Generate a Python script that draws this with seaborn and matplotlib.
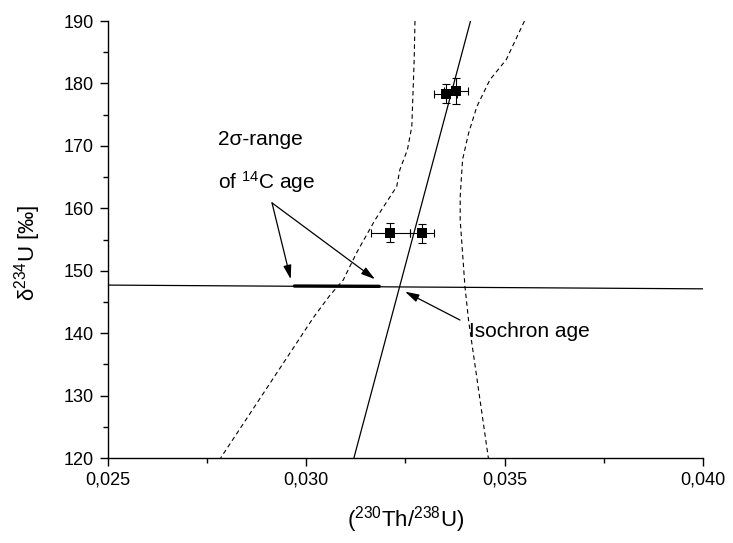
import matplotlib
matplotlib.use("Agg")
import matplotlib.pyplot as plt
import seaborn as sns
import pandas as pd
from matplotlib.ticker import MultipleLocator, FuncFormatter

# ---------------- data ----------------
pt_x = [0.03212, 0.03292, 0.03352, 0.03377]
pt_y = [156.1, 156.0, 178.35, 178.8]
pt_xerr = [0.00050, 0.00030, 0.00029, 0.00030]
pt_yerr = [1.5, 1.5, 1.55, 2.1]

iso_x = [0.03120, 0.03414]
iso_y = [120.0, 190.0]

ref_x = [0.025, 0.040]
ref_y = [147.7, 147.1]

c14_x = [0.02970, 0.03184]
c14_y = [147.55, 147.5]

lo_x = [0.03274, 0.03272, 0.03266, 0.03255, 0.03236, 0.03228, 0.03173,
        0.03127, 0.03093, 0.03060, 0.03019, 0.02784]
lo_y = [190.0, 183.8, 173.1, 169.4, 166.2, 163.5, 158.1,
        152.9, 148.5, 146.1, 142.6, 120.0]

hi_x = [0.03550, 0.03504, 0.03463, 0.03430, 0.03409, 0.03394, 0.03388,
        0.03388, 0.03400, 0.03409, 0.03459]
hi_y = [190.0, 183.8, 180.6, 176.3, 172.0, 167.8, 161.9,
        158.1, 147.45, 142.1, 120.0]

x_ticks = [0.025, 0.030, 0.035, 0.040]
y_ticks = [120, 130, 140, 150, 160, 170, 180, 190]

# ---------------- style ----------------
sns.set_theme(style="ticks")
plt.rcParams['font.family'] = ['Liberation Sans', 'DejaVu Sans']
plt.rcParams['mathtext.fontset'] = 'custom'
plt.rcParams['mathtext.rm'] = 'Liberation Sans'
plt.rcParams['mathtext.it'] = 'Liberation Sans:italic'
plt.rcParams['mathtext.default'] = 'regular'

fig = plt.figure(figsize=(7.33, 5.43), dpi=100)
ax = fig.add_axes([0.1473, 0.1565, 0.8117, 0.8048])

# dashed confidence curves
sns.lineplot(x=lo_x, y=lo_y, sort=False, estimator=None, ax=ax, color='black',
             lw=0.8, linestyle=(0, (4, 3)))
sns.lineplot(x=hi_x, y=hi_y, sort=False, estimator=None, ax=ax, color='black',
             lw=0.8, linestyle=(0, (4, 3)))
# isochron
sns.lineplot(x=iso_x, y=iso_y, sort=False, estimator=None, ax=ax, color='black', lw=0.9)
# horizontal line
sns.lineplot(x=ref_x, y=ref_y, sort=False, estimator=None, ax=ax, color='black', lw=0.9)
# 14C range
sns.lineplot(x=c14_x, y=c14_y, sort=False, estimator=None, ax=ax, color='black', lw=2.4)

# data points
ax.errorbar(pt_x, pt_y, xerr=pt_xerr, yerr=pt_yerr, fmt='none', ecolor='black',
            elinewidth=0.8, capsize=3, capthick=0.8, zorder=3)
sns.scatterplot(x=pt_x, y=pt_y, marker='s', s=45, color='black',
                edgecolor='black', linewidth=0, ax=ax, zorder=4)

ax.set_xlim(0.025, 0.040)
ax.set_ylim(120, 190)
ax.set_xticks(x_ticks)
ax.set_yticks(y_ticks)
ax.xaxis.set_minor_locator(MultipleLocator(0.0025))
ax.yaxis.set_minor_locator(MultipleLocator(5))
ax.xaxis.set_major_formatter(FuncFormatter(lambda v, p: f"{v:.3f}".replace('.', ',')))
ax.yaxis.set_major_formatter(FuncFormatter(lambda v, p: f"{v:.0f}"))
ax.tick_params(which='major', direction='out', length=6, width=1.0,
               labelsize=13, color='black', labelcolor='black', pad=4)
ax.tick_params(which='minor', direction='out', length=3.5, width=1.0, color='black')
sns.despine(ax=ax)
for s in ['left', 'bottom']:
    ax.spines[s].set_color('black')
    ax.spines[s].set_linewidth(1.0)

ax.set_xlabel(r"($^{230}$Th/$^{238}$U)", fontsize=16, color='black')
ax.set_ylabel(r"δ$^{234}$U [‰]", fontsize=16, color='black')
ax.xaxis.set_label_coords(0.5, -0.105)
ax.yaxis.set_label_coords(-0.11, 0.47)

# annotations
ax.text(0.02777, 170.96, "2σ-range", fontsize=15, ha='left', va='center', color='black')
ax.text(0.02777, 164.28, r"of $^{14}$C age", fontsize=15, ha='left', va='center', color='black')
arrow = dict(arrowstyle="-|>,head_length=0.7,head_width=0.2", color='black', lw=0.9,
             shrinkA=0, shrinkB=0)
ax.annotate("", xy=(0.029607, 148.64), xytext=(0.029135, 160.87), arrowprops=arrow)
ax.annotate("", xy=(0.031732, 148.64), xytext=(0.029135, 160.87), arrowprops=arrow)
ax.annotate("", xy=(0.032489, 146.65), xytext=(0.033875, 142.1), arrowprops=arrow)
ax.text(0.03410, 140.3, "Isochron age", fontsize=15, ha='left', va='center', color='black')

fig.savefig("out.png", dpi=100, facecolor='white')
